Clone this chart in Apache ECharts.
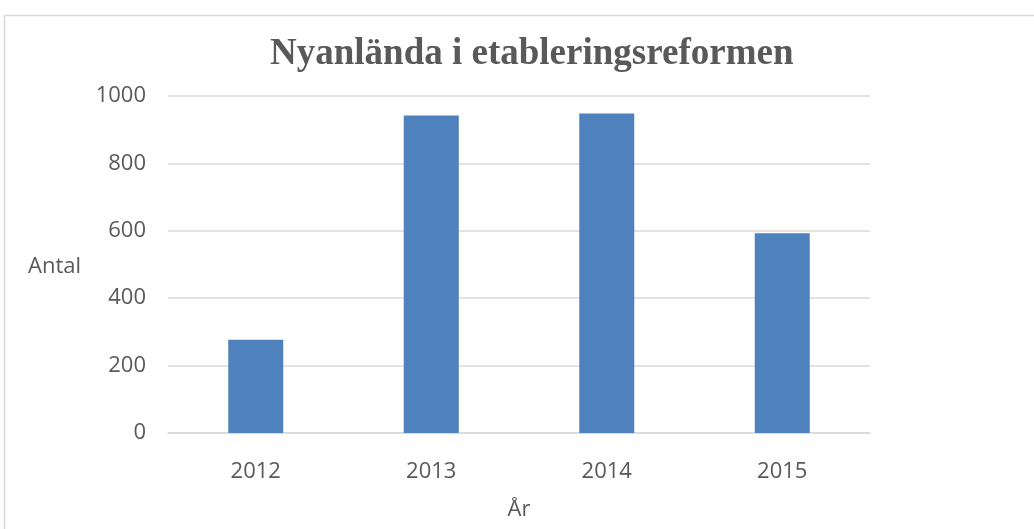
<!DOCTYPE html>
<html>
<head>
<meta charset="utf-8">
<script src="https://cdn.jsdelivr.net/npm/echarts@6/dist/echarts.min.js"></script>
<style>
  html, body { margin: 0; padding: 0; background: #fff; }
  #main { width: 1034px; height: 529px; }
</style>
</head>
<body>
<div id="main"></div>
<script>
// data
var years = ['2012', '2013', '2014', '2015'];
var antal = [277, 942, 948, 593];
var yTicks = [0, 200, 400, 600, 800, 1000];

var myChart = echarts.init(document.getElementById('main'));

var labelFont = '"Open Sans", "Liberation Sans", sans-serif';

var option = {
    backgroundColor: '#ffffff',
    animation: false,
    title: {
        text: 'Nyanlända i etableringsreformen',
        left: 265,
        top: 31,
        textStyle: {
            fontFamily: '"Liberation Serif", "DejaVu Serif", serif',
            fontWeight: 'bold',
            fontSize: 37,
            color: '#595959'
        }
    },
    graphic: [
        {
            // chart frame
            type: 'rect',
            silent: true,
            z: -1,
            shape: { x: 4.5, y: 15.5, width: 1200, height: 700 },
            style: { fill: 'none', stroke: '#d9d9d9', lineWidth: 1.5 }
        },
        {
            // y axis title, sits level with the middle of the plot
            type: 'text',
            left: 28,
            top: 256,
            style: {
                text: 'Antal',
                font: '22px ' + labelFont,
                fill: '#595959'
            }
        }
    ],
    grid: {
        left: 168,
        right: 164,
        top: 96,
        bottom: 96
    },
    xAxis: {
        type: 'category',
        data: years,
        name: 'År',
        nameLocation: 'middle',
        nameGap: 66,
        nameTextStyle: { fontFamily: labelFont, fontSize: 22, color: '#595959' },
        axisLine: { lineStyle: { color: '#d9d9d9', width: 1.5 } },
        axisTick: { show: false },
        axisLabel: { fontFamily: labelFont, fontSize: 22, color: '#595959', margin: 28 }
    },
    yAxis: {
        type: 'value',
        min: yTicks[0],
        max: yTicks[yTicks.length - 1],
        interval: 200,
        axisLine: { show: false },
        axisTick: { show: false },
        axisLabel: {
            fontFamily: labelFont, fontSize: 22, color: '#595959', margin: 22,
            formatter: function (v) { return String(v); }
        },
        splitLine: { lineStyle: { color: '#d9d9d9', width: 1.5 } }
    },
    series: [
        {
            type: 'bar',
            data: antal,
            barWidth: 55,
            itemStyle: { color: '#4f81bd' }
        }
    ]
};

option && myChart.setOption(option);
</script>
</body>
</html>
